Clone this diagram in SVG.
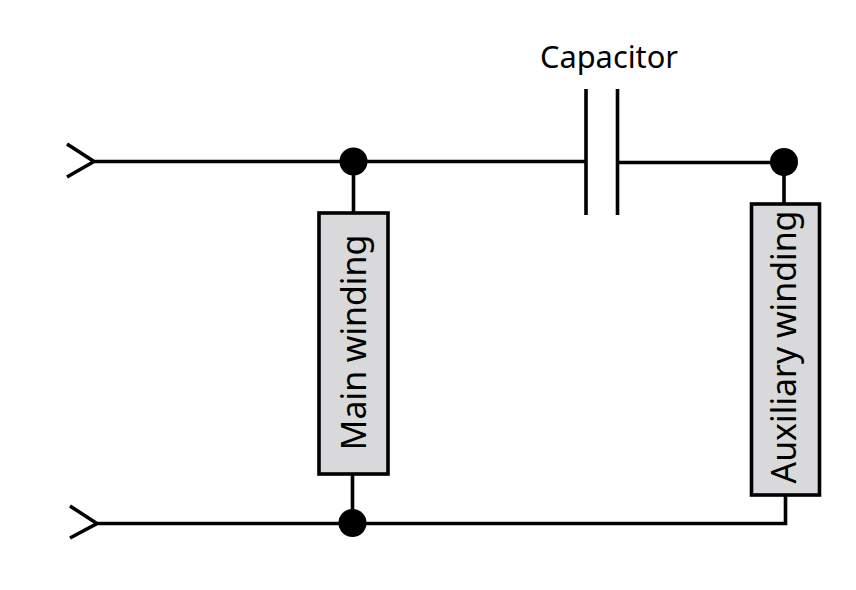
<svg xmlns="http://www.w3.org/2000/svg" width="856" height="590" viewBox="0 0 856 590">
<style>
.w{fill:none;stroke:#000;stroke-width:3.6;stroke-linejoin:miter}
.d{fill:#000}
.b{fill:#d9d9db;stroke:#000;stroke-width:3.6}
text{font-family:"Noto Sans","Open Sans",sans-serif;fill:#000}
.c{font-size:30.8px}
.r{font-size:33.8px}
</style>
<rect width="856" height="590" fill="#fff"/>
<g id="connectors">
<path class="w" d="M67 144L94 161.5L67 177M94 161.5H586"/>
<path class="w" d="M70 506L97 523.5L70 538M97 523.5H785.5V495"/>
<path class="w" d="M353.5 161.5V213M352.5 474V523"/>
<path class="w" d="M617.5 162.5H784V204"/>
</g>
<g id="capacitor">
<path class="w" d="M586 89V215M617.5 89V215"/>
<text class="c" x="609" y="68" text-anchor="middle">Capacitor</text>
</g>
<g id="junction-top-left"><circle class="d" cx="353.5" cy="161.5" r="14"/></g>
<g id="junction-top-right"><circle class="d" cx="784" cy="162" r="14"/></g>
<g id="junction-bottom"><circle class="d" cx="352.5" cy="523" r="14"/></g>
<g id="main-winding">
<rect class="b" x="319" y="213" width="69" height="261"/>
<text class="r" transform="translate(366 342.5) rotate(-90)" text-anchor="middle">Main winding</text>
</g>
<g id="auxiliary-winding">
<rect class="b" x="751.5" y="204" width="68" height="291"/>
<text class="r" transform="translate(795.5 347) rotate(-90)" text-anchor="middle">Auxiliary winding</text>
</g>
</svg>
